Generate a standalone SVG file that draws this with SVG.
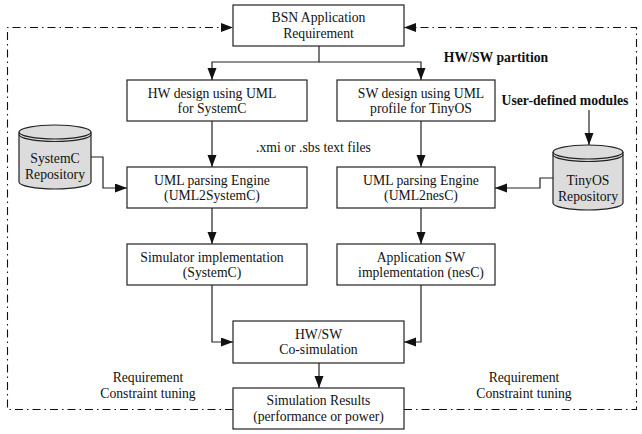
<svg xmlns="http://www.w3.org/2000/svg" width="642" height="434" viewBox="0 0 642 434">
<style>
text{font-family:"Liberation Serif","Times New Roman",serif;font-size:13.7px;fill:#111;text-anchor:middle}
.b{font-weight:bold}
.box{fill:#fff;stroke:#222;stroke-width:1.2}
.cyl{fill:#dcdcdc;stroke:#222;stroke-width:1.2}
.ln{fill:none;stroke:#222;stroke-width:1.2}
.dd{fill:none;stroke:#111;stroke-width:1.1;stroke-dasharray:8 4 1.5 4}
</style>
<defs>
<marker id="ah" markerUnits="userSpaceOnUse" markerWidth="13" markerHeight="10" refX="12" refY="4.5" orient="auto">
<path d="M0,0 L12,4.5 L0,9 z" fill="#111"/>
</marker>
</defs>
<g id="connectors">
<path class="dd" d="M233,409.5 L7.5,409.5 L7.5,27.5 L233,27.5" marker-end="url(#ah)"/>
<path class="dd" d="M404,409.5 L636.5,409.5 L636.5,27.5 L404,27.5" marker-end="url(#ah)"/>
<path class="ln" d="M319,46 L319,62 L212,62 L212,80" marker-end="url(#ah)"/>
<path class="ln" d="M319,62 L421,62 L421,80" marker-end="url(#ah)"/>
<path class="ln" d="M212,121 L212,167" marker-end="url(#ah)"/>
<path class="ln" d="M421,121 L421,167" marker-end="url(#ah)"/>
<path class="ln" d="M91,157 L103,157 L103,188 L127,188" marker-end="url(#ah)"/>
<path class="ln" d="M553,178 L540,178 L540,188 L495,188" marker-end="url(#ah)"/>
<path class="ln" d="M589,110 L589,145" marker-end="url(#ah)"/>
<path class="ln" d="M212,208 L212,244" marker-end="url(#ah)"/>
<path class="ln" d="M421,208 L421,244" marker-end="url(#ah)"/>
<path class="ln" d="M212,285 L212,342 L233,342" marker-end="url(#ah)"/>
<path class="ln" d="M421,285 L421,342 L404,342" marker-end="url(#ah)"/>
<path class="ln" d="M319,363 L319,388" marker-end="url(#ah)"/>
</g>
<g id="bsn">
<rect class="box" x="233" y="5" width="171" height="41"/>
<text x="318.5" y="22">BSN Application</text>
<text x="318.5" y="38">Requirement</text>
</g>
<g id="hw-design">
<rect class="box" x="127" y="80" width="180" height="41"/>
<text x="212" y="97.5">HW design using UML</text>
<text x="212" y="112.5">for SystemC</text>
</g>
<g id="sw-design">
<rect class="box" x="337" y="80" width="158" height="41"/>
<text x="421" y="97.5">SW design using UML</text>
<text x="421" y="112.5">profile for TinyOS</text>
</g>
<g id="uml2systemc">
<rect class="box" x="127" y="167" width="180" height="41"/>
<text x="212" y="184.5">UML parsing Engine</text>
<text x="212" y="199.5">(UML2SystemC)</text>
</g>
<g id="uml2nesc">
<rect class="box" x="337" y="167" width="158" height="41"/>
<text x="421" y="184.5">UML parsing Engine</text>
<text x="421" y="199.5">(UML2nesC)</text>
</g>
<g id="simulator">
<rect class="box" x="127" y="244" width="180" height="41"/>
<text x="212" y="261.5">Simulator implementation</text>
<text x="212" y="276.5">(SystemC)</text>
</g>
<g id="app-sw">
<rect class="box" x="337" y="244" width="158" height="41"/>
<text x="421" y="261.5">Application SW</text>
<text x="421" y="276.5">implementation (nesC)</text>
</g>
<g id="cosim">
<rect class="box" x="233" y="321" width="171" height="42"/>
<text x="318.5" y="338.5">HW/SW</text>
<text x="318.5" y="354">Co-simulation</text>
</g>
<g id="results">
<rect class="box" x="233" y="388" width="171" height="41"/>
<text x="318.5" y="405">Simulation Results</text>
<text x="318.5" y="421">(performance or power)</text>
</g>
<g id="systemc-repo">
<path class="cyl" d="M19,132 L19,182 A36,7 0 0 0 91,182 L91,132 A36,7 0 0 0 19,132 Z"/>
<path class="ln" d="M19,132 A36,7 0 0 0 91,132"/>
<path class="ln" d="M19,134.5 A36,7 0 0 0 91,134.5"/>
<text x="55" y="163">SystemC</text>
<text x="55" y="179">Repository</text>
</g>
<g id="tinyos-repo">
<path class="cyl" d="M553,152 L553,203 A35,7 0 0 0 623,203 L623,152 A35,7 0 0 0 553,152 Z"/>
<path class="ln" d="M553,152 A35,7 0 0 0 623,152"/>
<path class="ln" d="M553,154.5 A35,7 0 0 0 623,154.5"/>
<text x="588" y="184.5">TinyOS</text>
<text x="588" y="200.5">Repository</text>
</g>
<g id="labels">
<text class="b" x="496" y="61.5">HW/SW partition</text>
<text class="b" x="565" y="104.5">User-defined modules</text>
<text x="313.5" y="151.5">.xmi or .sbs text files</text>
<text x="148" y="381.5">Requirement</text>
<text x="148" y="398">Constraint tuning</text>
<text x="524" y="381.5">Requirement</text>
<text x="524" y="398">Constraint tuning</text>
</g>
</svg>
